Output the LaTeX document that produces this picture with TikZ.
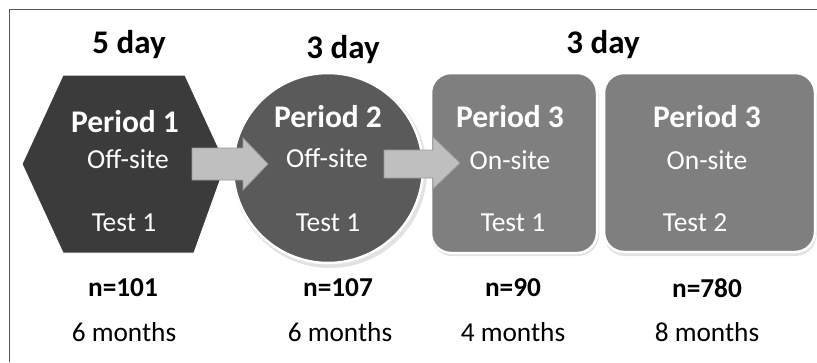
\documentclass[tikz,border=0pt]{standalone}
\usepackage{fontspec}
\setmainfont{Carlito}
\begin{document}
\begin{tikzpicture}[x=1pt,y=-1pt,
  hdr/.style={font=\bfseries\fontsize{33}{36}\selectfont, text=black},
  ptitle/.style={font=\bfseries\fontsize{31.5}{34}\selectfont, text=white},
  psub/.style={font=\fontsize{27.5}{30}\selectfont, text=white},
  nlab/.style={font=\bfseries\fontsize{27.3}{30}\selectfont, text=black},
  mlab/.style={font=\fontsize{27.3}{30}\selectfont, text=black},
  blockarrow/.style={fill=arrowgray, draw=arrowedge, line width=0.8pt},
  shapeedge/.style={draw=white, line width=2.5pt},
  softshadow/.style={fill=shadowgray}]
\definecolor{hexgray}{HTML}{3B3B3B}
\definecolor{circgray}{HTML}{5A5A5A}
\definecolor{rectgray}{HTML}{7F7F7F}
\definecolor{arrowgray}{HTML}{BFBFBF}
\definecolor{arrowedge}{HTML}{9A9A9A}
\definecolor{framegray}{HTML}{555555}
\definecolor{shadowgray}{HTML}{E2E2E2}
\useasboundingbox (0,0) rectangle (817,362);
\fill[white] (-3,-3) rectangle (820,365);
% frame
\coordinate (ftl) at (9,9);
\coordinate (ftr) at (817,9);
\coordinate (fbl) at (9,362);
\draw[framegray, line width=1pt] (fbl) -- (ftl) -- (ftr);
% soft shadows
\fill[softshadow] (330,171) circle (97pt);
\fill[softshadow, rounded corners=21pt] (431,75) rectangle (599,256);
\fill[softshadow, rounded corners=21pt] (604,75) rectangle (816.5,256);
% shapes
\draw[fill=hexgray, draw=white, line width=1pt] (22,164) -- (63,75) -- (185,75) -- (226,164) -- (194,253) -- (63,253) -- cycle;
\node[circle, fill=circgray, shapeedge, minimum size=190pt, inner sep=0pt] (c2) at (328,168) {};
\draw[fill=rectgray, shapeedge, rounded corners=20pt] (431,73) rectangle (597,253);
\draw[fill=rectgray, shapeedge, rounded corners=20pt] (604,73) rectangle (815,252);
% block arrows
\draw[blockarrow] (192,148) -- (243,148) -- (243,138) -- (268,164) -- (243,190) -- (243,180) -- (192,180) -- cycle;
\draw[blockarrow] (384,150) -- (433,150) -- (433,137) -- (460,163) -- (433,189) -- (433,178) -- (384,178) -- cycle;
% headers
\node[hdr] (h1) at (129,45) {5 day};
\node[hdr] (h2) at (343,50) {3 day};
\node[hdr] (h3) at (603,45) {3 day};
% period texts
\node[ptitle] (p1) at (125,122) {Period 1};
\node[psub] (o1) at (128,159) {Off-site};
\node[psub] (t1) at (124,223) {Test 1};
\node[ptitle] (p2) at (328,117) {Period 2};
\node[psub] (o2) at (327,158) {Off-site};
\node[psub] (t2) at (328,223) {Test 1};
\node[ptitle] (p3) at (510,117) {Period 3};
\node[psub] (o3) at (510,160) {On-site};
\node[psub] (t3) at (513,223) {Test 1};
\node[ptitle] (p4) at (707,117) {Period 3};
\node[psub] (o4) at (707,160) {On-site};
\node[psub] (t4) at (695,223) {Test 2};
% counts
\node[nlab] (n1) at (123,288) {n=101};
\node[nlab] (n2) at (338,288) {n=107};
\node[nlab] (n3) at (513,288) {n=90};
\node[nlab] (n4) at (707,288) {n=780};
\node[mlab] (m1) at (124,332) {6 months};
\node[mlab] (m2) at (340,332) {6 months};
\node[mlab] (m3) at (513,332) {4 months};
\node[mlab] (m4) at (707,332) {8 months};
\end{tikzpicture}
\end{document}
